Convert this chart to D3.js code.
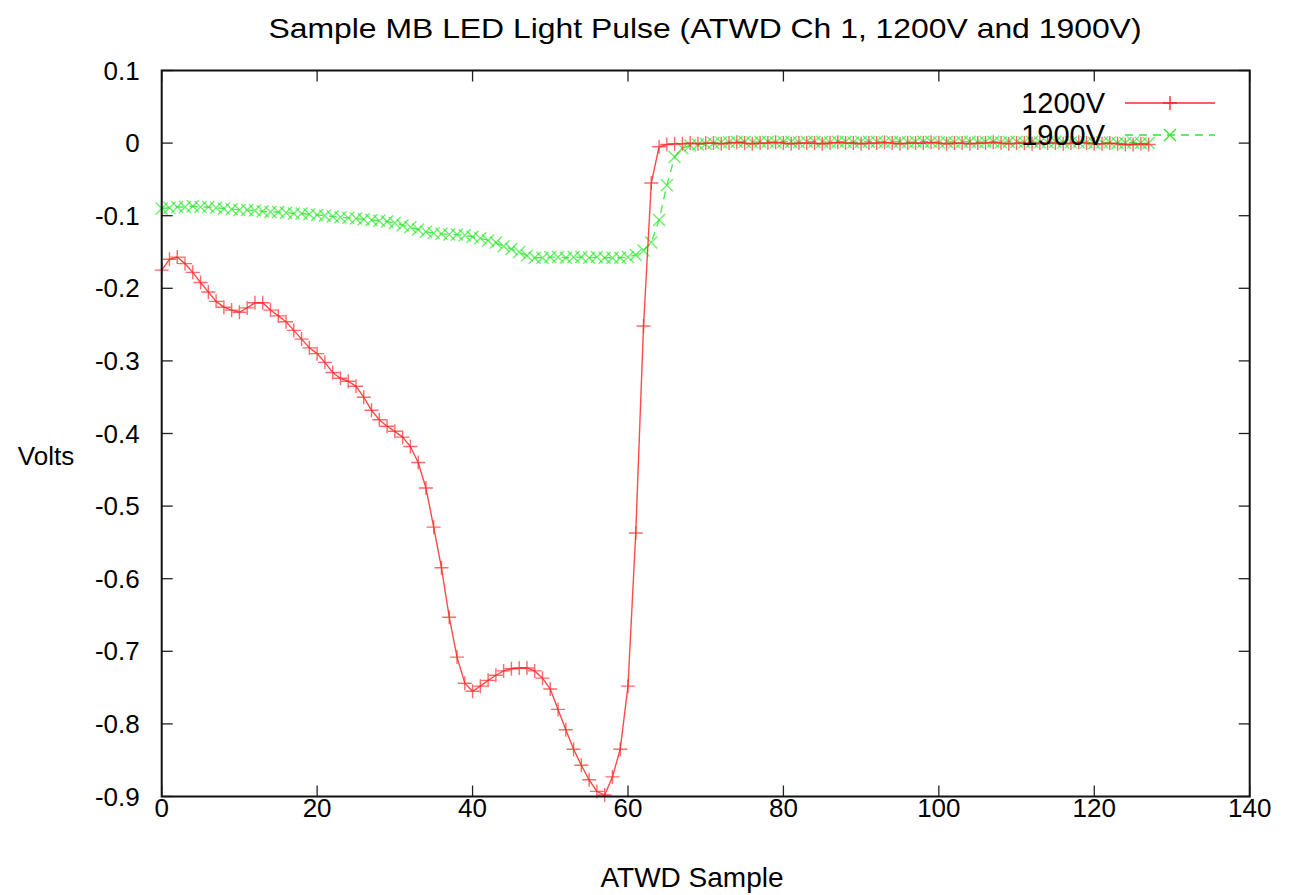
<!DOCTYPE html>
<html>
<head>
<meta charset="utf-8">
<script src="https://cdn.jsdelivr.net/npm/d3@7"></script>
<style>
  body { margin: 0; background: #fff; }
  text { font-family: "Liberation Sans", Arial, sans-serif; fill: #000; }
</style>
</head>
<body>
<div id="my_dataviz"></div>
<script>
// sample values (index = ATWD sample)
var seriesNames = ["1200V", "1900V"];

var volts1200 = [
  -0.175, -0.160, -0.157, -0.166, -0.178, -0.192, -0.205, -0.218, -0.226, -0.230,
  -0.233, -0.227, -0.220, -0.220, -0.230, -0.238, -0.246, -0.258, -0.270, -0.282,
  -0.290, -0.302, -0.316, -0.324, -0.328, -0.335, -0.350, -0.368, -0.381, -0.390,
  -0.397, -0.405, -0.418, -0.440, -0.475, -0.529, -0.585, -0.653, -0.708, -0.744,
  -0.755, -0.748, -0.740, -0.733, -0.727, -0.724, -0.723, -0.723, -0.727, -0.737,
  -0.752, -0.780, -0.808, -0.835, -0.857, -0.877, -0.893, -0.898, -0.873, -0.835,
  -0.748, -0.537, -0.252, -0.055, -0.005,
  -0.002, -0.001, -0.001, 0.000, -0.001, 0.000, 0.000, -0.001, 0.000, 0.001,
  0.000, -0.001, 0.000, 0.000, 0.001, 0.000, -0.001, 0.000, 0.000, 0.000,
  -0.001, 0.000, 0.001, 0.000, 0.000, -0.001, 0.000, 0.000, 0.001, 0.000,
  -0.001, 0.000, 0.000, 0.000, 0.001, 0.000, -0.001, 0.000, 0.000, -0.001,
  0.000, 0.000, 0.001, 0.000, -0.001, 0.000, 0.000, -0.001, 0.000, 0.000,
  0.000, -0.001, 0.000, 0.001, 0.000, -0.001, -0.001, 0.000, -0.001, -0.002,
  -0.002, -0.001, -0.002
];

var volts1900 = [
  -0.090, -0.089, -0.088, -0.088, -0.087, -0.088, -0.088, -0.089, -0.090, -0.091,
  -0.092, -0.092, -0.093, -0.094, -0.095, -0.095, -0.096, -0.097, -0.097, -0.098,
  -0.099, -0.100, -0.101, -0.102, -0.103, -0.104, -0.105, -0.106, -0.107, -0.108,
  -0.110, -0.113, -0.116, -0.119, -0.122, -0.124, -0.125, -0.126, -0.126, -0.127,
  -0.129, -0.131, -0.134, -0.137, -0.142, -0.146, -0.150, -0.155, -0.158, -0.158,
  -0.157, -0.157, -0.158, -0.157, -0.157, -0.158, -0.157, -0.158, -0.158, -0.158,
  -0.157, -0.154, -0.148, -0.137, -0.106, -0.058, -0.019, -0.007,
  -0.003, -0.002, -0.001, 0.000, 0.001, 0.001, 0.002, 0.002, 0.001, 0.002,
  0.002, 0.001, 0.002, 0.002, 0.001, 0.002, 0.002, 0.002, 0.001, 0.002,
  0.002, 0.001, 0.002, 0.002, 0.002, 0.001, 0.002, 0.002, 0.001, 0.002,
  0.002, 0.002, 0.001, 0.002, 0.001, 0.002, 0.002, 0.001, 0.002, 0.002,
  0.001, 0.002, 0.002, 0.001, 0.002, 0.001, 0.001, 0.002, 0.001, 0.001,
  0.001, 0.001, 0.000, 0.001, 0.001, 0.000, 0.000, 0.001, 0.000, 0.000
];

var xTicks = [0, 20, 40, 60, 80, 100, 120, 140];
var yTicks = [0.1, 0, -0.1, -0.2, -0.3, -0.4, -0.5, -0.6, -0.7, -0.8, -0.9];

var W = 1300, H = 895;
var margin = { left: 161.7, right: 50.3, top: 70.5, bottom: 98.5 };
var width = W - margin.left - margin.right, height = H - margin.top - margin.bottom;

var svg = d3.select("#my_dataviz").append("svg")
    .attr("width", W)
    .attr("height", H);

var g = svg.append("g")
    .attr("transform", "translate(" + margin.left + "," + margin.top + ")");

var x = d3.scaleLinear().domain([0, 140]).range([0, width]);
var y = d3.scaleLinear().domain([-0.9, 0.1]).range([height, 0]);

// title and axis labels
svg.append("text")
    .attr("x", 705).attr("y", 38)
    .attr("text-anchor", "middle")
    .attr("textLength", 873)
    .attr("lengthAdjust", "spacingAndGlyphs")
    .style("font-size", "28px")
    .text("Sample MB LED Light Pulse (ATWD Ch 1, 1200V and 1900V)");

svg.append("text")
    .attr("x", 692).attr("y", 887)
    .attr("text-anchor", "middle")
    .attr("textLength", 183)
    .attr("lengthAdjust", "spacingAndGlyphs")
    .style("font-size", "28px")
    .text("ATWD Sample");

svg.append("text")
    .attr("x", 46).attr("y", 465)
    .attr("text-anchor", "middle")
    .style("font-size", "26px")
    .text("Volts");

// ticks (gnuplot style: inward, mirrored)
var tickLen = 11;
var tickColor = "#222";
xTicks.forEach(function (t) {
    g.append("line").attr("x1", x(t)).attr("x2", x(t)).attr("y1", height).attr("y2", height - tickLen)
        .attr("stroke", tickColor).attr("stroke-width", 1.3);
    g.append("line").attr("x1", x(t)).attr("x2", x(t)).attr("y1", 0).attr("y2", tickLen)
        .attr("stroke", tickColor).attr("stroke-width", 1.3);
    g.append("text")
        .attr("x", x(t)).attr("y", height + 20)
        .attr("text-anchor", "middle")
        .style("font-size", "26px")
        .text(t);
});
yTicks.forEach(function (t) {
    g.append("line").attr("x1", 0).attr("x2", tickLen).attr("y1", y(t)).attr("y2", y(t))
        .attr("stroke", tickColor).attr("stroke-width", 1.3);
    g.append("line").attr("x1", width).attr("x2", width - tickLen).attr("y1", y(t)).attr("y2", y(t))
        .attr("stroke", tickColor).attr("stroke-width", 1.3);
    g.append("text")
        .attr("x", -22).attr("y", y(t) + 9)
        .attr("text-anchor", "end")
        .style("font-size", "26px")
        .text(t === 0 ? "0" : t.toFixed(1));
});

var color = d3.scaleOrdinal().domain(seriesNames).range(["#ff2a2a", "#2ee82e"]);
var dash = { "1200V": null, "1900V": "8,6" };
var data = { "1200V": volts1200, "1900V": volts1900 };

function plusPath(cx, cy, r) {
    return "M" + (cx - r) + "," + cy + "H" + (cx + r) + "M" + cx + "," + (cy - r) + "V" + (cy + r);
}
function crossPath(cx, cy, r) {
    return "M" + (cx - r) + "," + (cy - r) + "L" + (cx + r) + "," + (cy + r) +
           "M" + (cx - r) + "," + (cy + r) + "L" + (cx + r) + "," + (cy - r);
}

// green first, red on top
["1900V", "1200V"].forEach(function (m) {
    var vals = data[m];
    var line = d3.line()
        .x(function (d, i) { return x(i); })
        .y(function (d) { return y(d); });

    g.append("path")
        .datum(vals)
        .attr("fill", "none")
        .attr("stroke", color(m))
        .attr("stroke-width", 1.4)
        .attr("stroke-opacity", 0.85)
        .attr("stroke-dasharray", dash[m])
        .attr("d", line);

    g.append("g").selectAll("path")
        .data(vals)
        .enter()
        .append("path")
        .attr("d", function (d, i) {
            return m === "1200V" ? plusPath(x(i), y(d), 7) : crossPath(x(i), y(d), 6);
        })
        .attr("stroke", color(m))
        .attr("stroke-width", 1.4)
        .attr("stroke-opacity", 0.7)
        .attr("fill", "none");
});

// frame
g.append("rect")
    .attr("x", 0).attr("y", 0)
    .attr("width", width).attr("height", height)
    .attr("fill", "none")
    .attr("stroke", "#111")
    .attr("stroke-width", 2);

// legend
var legendX = 1105 - margin.left, legendY = [103 - margin.top, 135 - margin.top];
seriesNames.forEach(function (m, k) {
    var ly = legendY[k];
    g.append("text")
        .attr("x", legendX).attr("y", ly + 10)
        .attr("text-anchor", "end")
        .style("font-size", "29px")
        .text(m);
    g.append("line")
        .attr("x1", legendX + 20).attr("x2", legendX + 110)
        .attr("y1", ly).attr("y2", ly)
        .attr("stroke", color(m))
        .attr("stroke-width", 1.4)
        .attr("stroke-dasharray", dash[m]);
    g.append("path")
        .attr("d", m === "1200V" ? plusPath(legendX + 65, ly, 7) : crossPath(legendX + 65, ly, 6))
        .attr("stroke", color(m))
        .attr("stroke-width", 1.4)
        .attr("fill", "none");
});
</script>
</body>
</html>
